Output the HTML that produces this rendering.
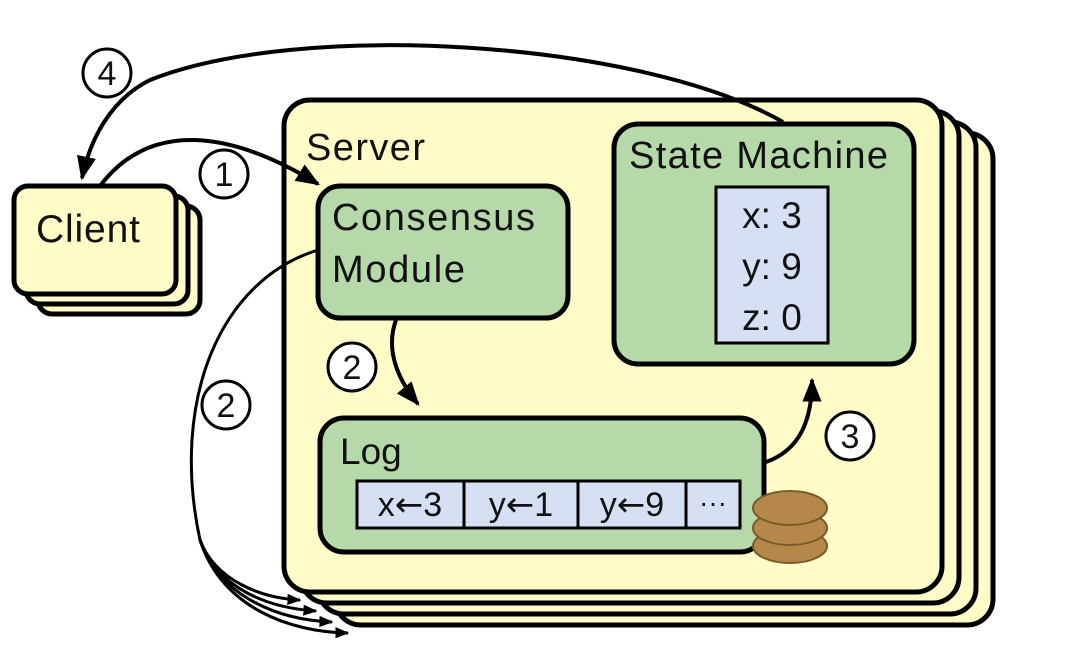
<!DOCTYPE html>
<html><head><style>
html,body{margin:0;padding:0;background:#fff;}
svg{display:block;}
text{font-family:"Liberation Sans",sans-serif;fill:#111;}
.ar{font-family:"DejaVu Sans",sans-serif;}
</style></head><body>
<svg width="1070" height="664" viewBox="0 0 1070 664" xmlns="http://www.w3.org/2000/svg">
<defs>
<marker id="ahb" viewBox="0 0 10 10" refX="9" refY="5" markerWidth="24" markerHeight="24" markerUnits="userSpaceOnUse" orient="auto">
<path d="M0,1 L10,5 L0,9 z" fill="#000"/></marker>
<marker id="ahs" viewBox="0 0 10 10" refX="9" refY="5" markerWidth="14" markerHeight="14" markerUnits="userSpaceOnUse" orient="auto">
<path d="M0,1 L10,5 L0,9 z" fill="#000"/></marker>
</defs>
<g stroke="#000" stroke-width="5" fill="#fffcc8">
<rect x="335" y="133" width="658" height="492" rx="26"/>
<rect x="318" y="122" width="658" height="492" rx="26"/>
<rect x="301" y="111" width="658" height="492" rx="26"/>
<rect x="284" y="100" width="658" height="492" rx="26"/>
</g>
<g stroke="#000" stroke-width="5" fill="#fffcc8">
<rect x="38" y="206" width="162" height="108" rx="14"/>
<rect x="26" y="196" width="162" height="108" rx="14"/>
<rect x="14" y="186" width="162" height="108" rx="14"/>
</g>
<text x="36" y="242" font-size="39" textLength="104">Client</text>
<text x="306" y="160" font-size="38" textLength="119">Server</text>
<rect x="318" y="186" width="250" height="132" rx="22" fill="#b5d9a8" stroke="#000" stroke-width="5"/>
<text x="332" y="230" font-size="38" textLength="203">Consensus</text>
<text x="332" y="282" font-size="38" textLength="133">Module</text>
<rect x="614" y="124" width="300" height="240" rx="24" fill="#b5d9a8" stroke="#000" stroke-width="5"/>
<text x="629" y="168" font-size="38" textLength="259">State Machine</text>
<rect x="716" y="187" width="112" height="156" fill="#d7e0f3" stroke="#000" stroke-width="3"/>
<text x="772" y="228" font-size="37" text-anchor="middle">x: 3</text>
<text x="772" y="279" font-size="37" text-anchor="middle">y: 9</text>
<text x="772" y="330" font-size="37" text-anchor="middle">z: 0</text>
<rect x="320" y="418" width="444" height="134" rx="24" fill="#b5d9a8" stroke="#000" stroke-width="5"/>
<text x="340" y="464" font-size="37">Log</text>
<g stroke="#000" stroke-width="3" fill="#d7e0f3">
<rect x="357" y="481" width="107" height="47"/>
<rect x="464" y="481" width="114" height="47"/>
<rect x="578" y="481" width="108" height="47"/>
<rect x="686" y="481" width="54" height="47"/>
</g>
<text x="410" y="516" font-size="34" text-anchor="middle">x<tspan class="ar">←</tspan>3</text>
<text x="521" y="516" font-size="34" text-anchor="middle">y<tspan class="ar">←</tspan>1</text>
<text x="632" y="516" font-size="34" text-anchor="middle">y<tspan class="ar">←</tspan>9</text>
<text x="713" y="512" font-size="28" text-anchor="middle">···</text>
<g fill="#b5884a" stroke="#7a5a2a" stroke-width="2">
<ellipse cx="790" cy="546" rx="37" ry="17"/>
<ellipse cx="790" cy="528" rx="37" ry="17"/>
<ellipse cx="790" cy="508" rx="37" ry="17"/>
</g>
<g fill="none" stroke="#000" stroke-width="4">
<path d="M783,122 C640,40 300,20 150,80 C110,100 90,140 82,178" marker-end="url(#ahb)"/>
<path d="M100,186 C150,120 230,130 318,184" marker-end="url(#ahb)"/>
<path d="M396,320 C385,350 398,380 418,404" marker-end="url(#ahb)"/>
<path d="M766,462 C800,450 812,420 812,380" marker-end="url(#ahb)"/>
</g>
<g fill="none" stroke="#000" stroke-width="3">
<path d="M318,250 C220,280 170,400 200,540 C215,580 260,598 300,600" marker-end="url(#ahs)"/>
<path d="M200,540 C218,590 270,608 316,611" marker-end="url(#ahs)"/>
<path d="M200,540 C220,598 280,620 332,622" marker-end="url(#ahs)"/>
<path d="M200,540 C222,608 290,632 348,633" marker-end="url(#ahs)"/>
</g>
<g fill="#fff" stroke="#000" stroke-width="3">
<circle cx="107" cy="73" r="24"/>
<circle cx="224" cy="174" r="24"/>
<circle cx="352" cy="367" r="24"/>
<circle cx="226" cy="405" r="24"/>
<circle cx="850" cy="436" r="24"/>
</g>
<g font-size="34" text-anchor="middle">
<text x="107" y="85">4</text>
<text x="224" y="186">1</text>
<text x="352" y="379">2</text>
<text x="226" y="417">2</text>
<text x="850" y="448">3</text>
</g>
</svg>
</body></html>
